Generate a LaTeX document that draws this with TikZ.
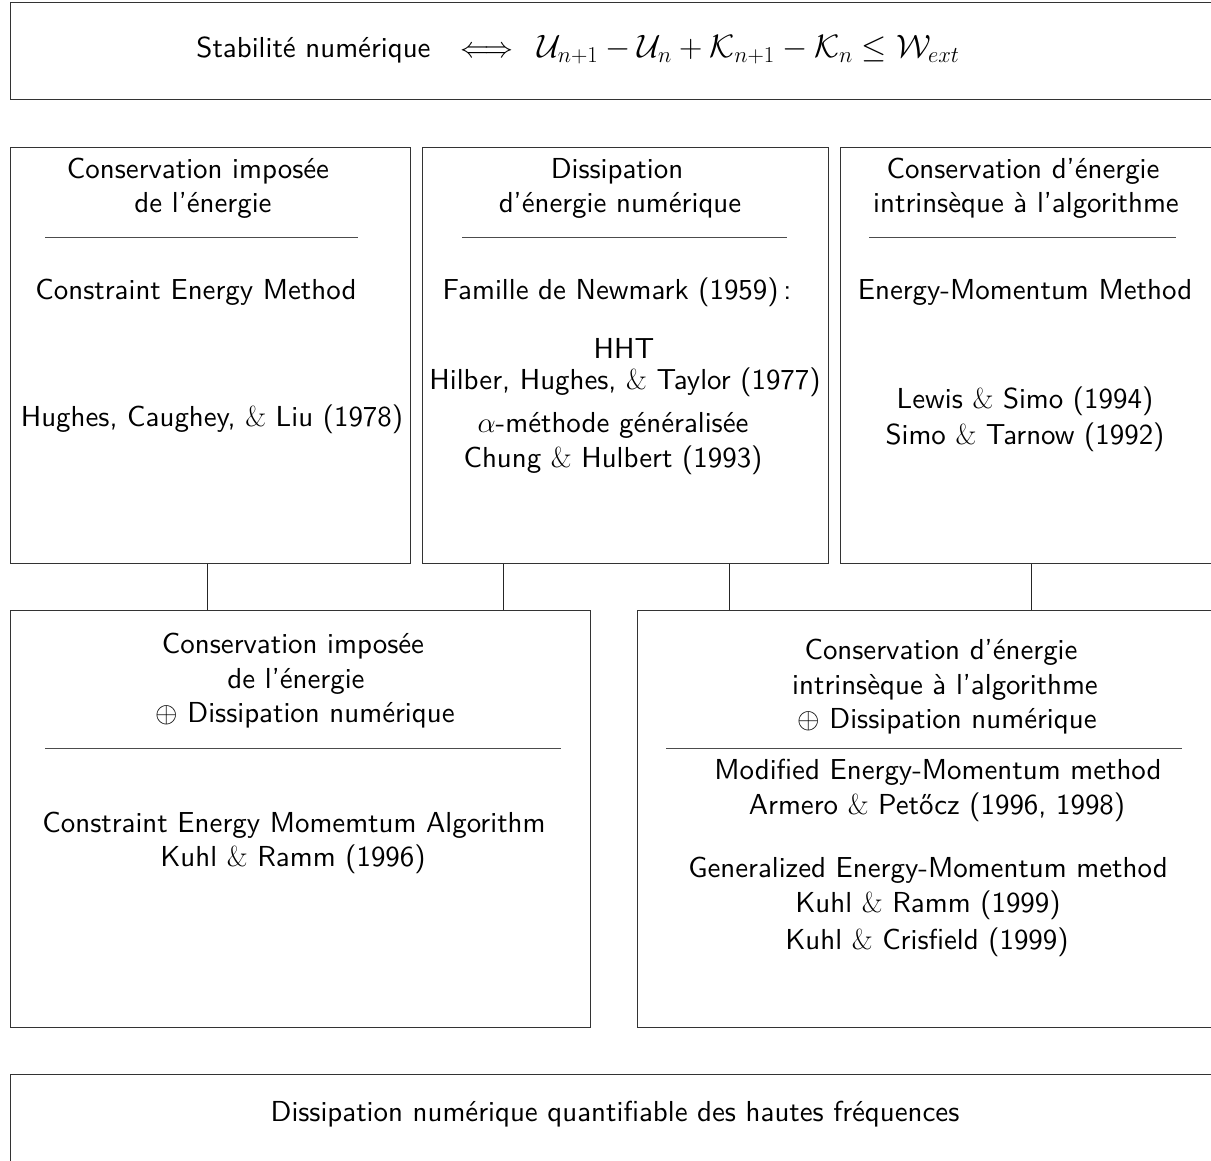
\RequirePackage{fix-cm}
\documentclass[tikz,border=0pt]{standalone}
\usepackage{amsmath,amssymb}
\usepackage{fontspec}
\setsansfont{lmsans10-regular.otf}
\renewcommand{\familydefault}{\sfdefault}
\begin{document}
\begin{tikzpicture}[x=1pt,y=-1pt,
  box/.style={draw=black!80,line width=1.1pt,rectangle,inner sep=0pt,anchor=north west},
  rulel/.style={draw=black!70,line width=1pt},
  link/.style={draw=black!85,line width=1pt},
  txt/.style={inner sep=0pt,text height=0.72em,text depth=0.22em,font=\sffamily\fontsize{28.9}{34.5}\selectfont}]
\useasboundingbox (0,0) rectangle (1211,1161);
\clip (0,0) rectangle (1211,1161);
% boxes
\node[box,minimum width=1240pt,minimum height=97pt] (top) at (10,2) {};
\node[box,minimum width=400pt,minimum height=416pt] (b1) at (10,147) {};
\node[box,minimum width=406pt,minimum height=416pt] (b2) at (422,147) {};
\node[box,minimum width=400pt,minimum height=416pt] (b3) at (840,147) {};
\node[box,minimum width=580pt,minimum height=417pt] (b4) at (10,610) {};
\node[box,minimum width=600pt,minimum height=417pt] (b5) at (637,610) {};
\node[box,minimum width=1240pt,minimum height=120pt] (bot) at (10,1074) {};
% connectors
\draw[link] (b1.south -| 207,0) -- (b4.north -| 207,0);
\draw[link] (b2.south -| 503,0) -- (b4.north -| 503,0);
\draw[link] (b2.south -| 729,0) -- (b5.north -| 729,0);
\draw[link] (b3.south -| 1031,0) -- (b5.north -| 1031,0);
% top text
\node[txt] (tt) at (578,55) {Stabilit\'e num\'erique\hspace{30pt}$\Longleftrightarrow$\hspace{24pt}\resizebox{422pt}{!}{$\mathcal{U}_{n+1}-\mathcal{U}_n+\mathcal{K}_{n+1}-\mathcal{K}_n\leq\mathcal{W}_{ext}$}};
% box 1
\node[txt] (a1) at (198,176) {Conservation impos\'ee};
\node[txt] (a2) at (203,210) {de l'\'energie};
\coordinate (r1a) at (45,238); \coordinate (r1b) at (358,238);
\draw[rulel] (r1a) -- (r1b);
\node[txt] (a3) at (196,297) {Constraint Energy Method};
\node[txt] (a4) at (212,424) {Hughes, Caughey, {\rmfamily\&} Liu (1978)};
% box 2
\node[txt] (c1) at (617,176) {Dissipation};
\node[txt] (c2) at (620,210) {d'\'energie num\'erique};
\coordinate (r2a) at (462,238); \coordinate (r2b) at (787,238);
\draw[rulel] (r2a) -- (r2b);
\node[txt] (c3) at (617,297) {Famille de Newmark (1959)\,:};
\node[txt] (c4) at (624,356) {HHT};
\node[txt] (c5) at (625,387) {Hilber, Hughes, {\rmfamily\&} Taylor (1977)};
\node[txt] (c6) at (613,430) {$\alpha$-m\'ethode g\'en\'eralis\'ee};
\node[txt] (c7) at (613,465) {Chung {\rmfamily\&} Hulbert (1993)};
% box 3
\node[txt] (d1) at (1023,176) {Conservation d'\'energie};
\node[txt] (d2) at (1026,210) {intrins\`eque \`a l'algorithme};
\coordinate (r3a) at (869,238); \coordinate (r3b) at (1176,238);
\draw[rulel] (r3a) -- (r3b);
\node[txt] (d3) at (1025,297) {Energy-Momentum Method};
\node[txt] (d4) at (1025,406) {Lewis {\rmfamily\&} Simo (1994)};
\node[txt] (d5) at (1025,442) {Simo {\rmfamily\&} Tarnow (1992)};
% box 4
\node[txt] (e1) at (293,651) {Conservation impos\'ee};
\node[txt] (e2) at (296,686) {de l'\'energie};
\node[txt] (e3) at (305,720) {$\oplus$ Dissipation num\'erique};
\coordinate (r4a) at (45,748); \coordinate (r4b) at (561,748);
\draw[rulel] (r4a) -- (r4b);
\node[txt] (e4) at (294,830) {Constraint Energy Momemtum Algorithm};
\node[txt] (e5) at (293,864) {Kuhl {\rmfamily\&} Ramm (1996)};
% box 5
\node[txt] (f1) at (941,657) {Conservation d'\'energie};
\node[txt] (f2) at (945,692) {intrins\`eque \`a l'algorithme};
\node[txt] (f3) at (947,726) {$\oplus$ Dissipation num\'erique};
\coordinate (r5a) at (666,748); \coordinate (r5b) at (1182,748);
\draw[rulel] (r5a) -- (r5b);
\node[txt] (f4) at (938,777) {Modified Energy-Momentum method};
\node[txt] (f5) at (937,812) {Armero {\rmfamily\&} Pet\H{o}cz (1996, 1998)};
\node[txt] (f6) at (928,875) {Generalized Energy-Momentum method};
\node[txt] (f7) at (928,910) {Kuhl {\rmfamily\&} Ramm (1999)};
\node[txt] (f8) at (927,947) {Kuhl {\rmfamily\&} Crisfield (1999)};
% bottom text
\node[txt] (bt) at (615,1119) {Dissipation num\'erique quantifiable des hautes fr\'equences};
\end{tikzpicture}
\end{document}
